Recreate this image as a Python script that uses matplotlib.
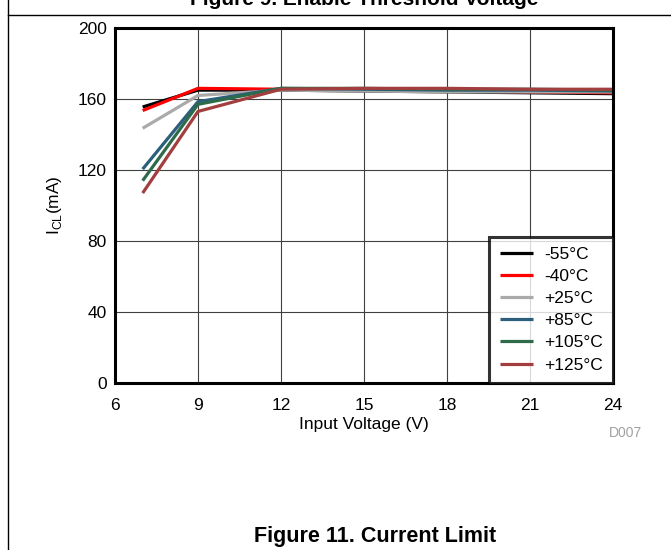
import matplotlib
matplotlib.use("Agg")
import matplotlib.pyplot as plt
from matplotlib.lines import Line2D

plt.rcParams['font.family'] = ['Liberation Sans', 'DejaVu Sans']

voltage = [7, 9, 12, 15, 18, 21, 24]
series_labels = ['-55°C', '-40°C', '+25°C', '+85°C', '+105°C', '+125°C']
i_m55 = [155.5, 165, 165, 164.5, 164, 163.5, 163]
i_m40 = [153.5, 166, 165.5, 165, 164.5, 164, 163.5]
i_p25 = [143.5, 162, 165, 164.5, 164, 164, 164]
i_p85 = [120.5, 158.5, 166, 165.5, 165, 165, 164.5]
i_p105 = [114, 157, 166, 166, 165.5, 165.5, 165]
i_p125 = [107, 153, 165.5, 166, 166, 165.5, 165.5]
series_values = [i_m55, i_m40, i_p25, i_p85, i_p105, i_p125]
colors = ['#000000', '#FF0000', '#AAAAAA', '#2B5F7C', '#2E6B4B', '#A23E3E']
x_ticks = [6, 9, 12, 15, 18, 21, 24]
y_ticks = [0, 40, 80, 120, 160, 200]

W, H = 671, 550
fig = plt.figure(figsize=(W / 100, H / 100), dpi=100)

ax = fig.add_axes([115 / W, 1 - 383 / H, (613 - 115) / W, (383 - 28) / H])
for vals, c, lab in zip(series_values, colors, series_labels):
    ax.plot(voltage, vals, color=c, lw=2.3, label=lab, solid_capstyle='butt')

ax.set_xlim(6, 24)
ax.set_ylim(0, 200)
ax.set_xticks(x_ticks)
ax.set_yticks(y_ticks)
ax.grid(True, color='#404040', lw=0.8)
ax.set_axisbelow(True)
for s in ax.spines.values():
    s.set_linewidth(2.2)
ax.tick_params(axis='both', labelsize=12.5, length=0, colors='black')
ax.tick_params(axis='x', pad=10.5)
ax.tick_params(axis='y', pad=6)
ax.set_xlabel('Input Voltage (V)', fontsize=12.5, labelpad=3)
ax.set_ylabel('I$_{\\mathregular{CL}}$(mA)', fontsize=12.5, labelpad=10)

leg = ax.legend(loc='lower right', fontsize=12.5, frameon=True, fancybox=False,
                handlelength=1.95, handletextpad=0.6, borderpad=0.6,
                borderaxespad=0.0, labelspacing=0.4, edgecolor='black')
leg.get_frame().set_linewidth(2.2)
for h in leg.get_lines():
    h.set_linewidth(2.3)

fig.text(626 / W, 1 - 433 / H, 'D007', fontsize=10, color='#A0A0A0', ha='center', va='center')

# page frame lines
fig.add_artist(Line2D([8 / W, 8 / W], [0, 1], color='black', lw=1.0, transform=fig.transFigure))
fig.add_artist(Line2D([8 / W, 1], [1 - 15 / H, 1 - 15 / H], color='black', lw=1.0, transform=fig.transFigure))

fig.text(364 / W, 1 - 5 / H, 'Figure 9. Enable Threshold Voltage', fontsize=15,
         fontweight='bold', ha='center', va='baseline')
fig.text(375 / W, 1 - 542 / H, 'Figure 11. Current Limit', fontsize=15.5,
         fontweight='bold', ha='center', va='baseline')

fig.savefig('out.png', dpi=100)
